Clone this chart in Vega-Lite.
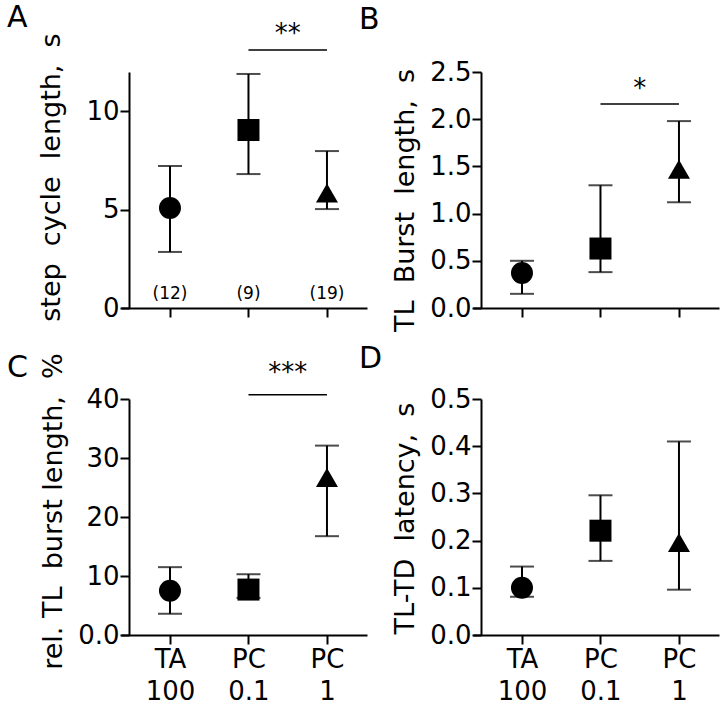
{
  "$schema": "https://vega.github.io/schema/vega-lite/v6.json",
  "padding": {"left": 7, "top": 3, "right": 5, "bottom": 5},
  "background": "white",
  "config": {
    "font": "DejaVu Sans",
    "view": {"stroke": null},
    "axis": {
      "domainColor": "black", "domainWidth": 2, "tickColor": "black", "tickWidth": 2, "tickSize": 9,
      "labelColor": "black", "labelFontSize": 26, "labelFont": "DejaVu Sans",
      "titleFontSize": 27, "titleFontWeight": "normal", "titleColor": "black", "titleFont": "DejaVu Sans",
      "grid": false
    },
    "title": {"fontSize": 30, "fontWeight": "normal", "anchor": "start", "frame": "group", "color": "black", "font": "DejaVu Sans"}
  },
  "columns": 2,
  "bounds": "flush",
  "spacing": {"row": 91, "column": 106},
  "concat": [
    {
      "width": 246, "height": 236,
      "title": {"text": "A", "dx": -114, "dy": 16},
      "data": {"values": [
        {"pos": 1, "grp": "TA100", "mean": 5.08, "lo": 2.85, "hi": 7.22, "n": "(12)"},
        {"pos": 2, "grp": "PC0.1", "mean": 9.05, "lo": 6.81, "hi": 11.9, "n": "(9)"},
        {"pos": 3, "grp": "PC1", "mean": 5.85, "lo": 5.03, "hi": 7.98, "n": "(19)"}
      ]},
      "encoding": {
        "x": {"field": "pos", "type": "quantitative", "scale": {"domain": [0.376, 3.51], "nice": false, "zero": false},
              "axis": {"values": [1, 2, 3], "labels": false, "title": null}}
      },
      "layer": [
        {"mark": {"type": "rule", "color": "black", "strokeWidth": 2},
         "encoding": {"y": {"field": "lo", "type": "quantitative", "scale": {"domain": [0, 12], "nice": false},
            "axis": {"values": [0, 5, 10], "offset": -8, "labelPadding": 1, "title": "step\u00a0\u00a0cycle\u00a0\u00a0length,\u00a0\u00a0s", "titlePadding": 20, "titleY": 105}},
           "y2": {"field": "hi"}}},
        {"mark": {"type": "tick", "orient": "horizontal", "color": "black", "thickness": 2, "size": 24}, "encoding": {"y": {"field": "lo", "type": "quantitative"}}},
        {"mark": {"type": "tick", "orient": "horizontal", "color": "black", "thickness": 2, "size": 24}, "encoding": {"y": {"field": "hi", "type": "quantitative"}}},
        {"mark": {"type": "point", "filled": true, "color": "black", "opacity": 1, "size": 484},
         "encoding": {"y": {"field": "mean", "type": "quantitative"},
           "shape": {"field": "grp", "type": "nominal", "scale": {"domain": ["TA100", "PC0.1", "PC1"], "range": ["circle", "square", "triangle-up"]}, "legend": null}}},
        {"mark": {"type": "text", "fontSize": 17, "color": "black", "baseline": "middle"},
         "encoding": {"y": {"datum": 0.71, "type": "quantitative"}, "text": {"field": "n"}}},
        {"data": {"values": [{"a": 2, "b": 3, "mid": 2.5, "y": 13.12, "ys": 13.52, "s": "**"}]},
         "layer": [
           {"mark": {"type": "rule", "color": "black", "strokeWidth": 1.5}, "encoding": {"x": {"field": "a", "type": "quantitative"}, "x2": {"field": "b"}, "y": {"field": "y", "type": "quantitative"}}},
           {"mark": {"type": "text", "fontSize": 26, "color": "black", "baseline": "alphabetic"},
            "encoding": {"x": {"field": "mid", "type": "quantitative"}, "y": {"field": "ys", "type": "quantitative"}, "text": {"field": "s", "type": "nominal"}}}
         ]}
      ]
    },
    {
      "width": 246, "height": 236,
      "title": {"text": "B", "dx": -114, "dy": -20},
      "data": {"values": [
        {"pos": 1, "grp": "TA100", "mean": 0.37, "lo": 0.15, "hi": 0.50},
        {"pos": 2, "grp": "PC0.1", "mean": 0.63, "lo": 0.38, "hi": 1.30},
        {"pos": 3, "grp": "PC1", "mean": 1.47, "lo": 1.12, "hi": 1.98}
      ]},
      "encoding": {
        "x": {"field": "pos", "type": "quantitative", "scale": {"domain": [0.376, 3.51], "nice": false, "zero": false},
              "axis": {"values": [1, 2, 3], "labels": false, "title": null}}
      },
      "layer": [
        {"mark": {"type": "rule", "color": "black", "strokeWidth": 2},
         "encoding": {"y": {"field": "lo", "type": "quantitative", "scale": {"domain": [0, 2.5], "nice": false},
            "axis": {"values": [0, 0.5, 1, 1.5, 2, 2.5], "format": ".1f", "offset": -8, "labelPadding": 1, "title": "TL\u00a0\u00a0Burst\u00a0\u00a0length,\u00a0\u00a0s", "titlePadding": 10, "titleY": 128}},
           "y2": {"field": "hi"}}},
        {"mark": {"type": "tick", "orient": "horizontal", "color": "black", "thickness": 2, "size": 24}, "encoding": {"y": {"field": "lo", "type": "quantitative"}}},
        {"mark": {"type": "tick", "orient": "horizontal", "color": "black", "thickness": 2, "size": 24}, "encoding": {"y": {"field": "hi", "type": "quantitative"}}},
        {"mark": {"type": "point", "filled": true, "color": "black", "opacity": 1, "size": 484},
         "encoding": {"y": {"field": "mean", "type": "quantitative"},
           "shape": {"field": "grp", "type": "nominal", "scale": {"domain": ["TA100", "PC0.1", "PC1"], "range": ["circle", "square", "triangle-up"]}, "legend": null}}},
        {"data": {"values": [{"a": 2, "b": 3, "mid": 2.5, "y": 2.16, "ys": 2.24, "s": "*"}]},
         "layer": [
           {"mark": {"type": "rule", "color": "black", "strokeWidth": 1.5}, "encoding": {"x": {"field": "a", "type": "quantitative"}, "x2": {"field": "b"}, "y": {"field": "y", "type": "quantitative"}}},
           {"mark": {"type": "text", "fontSize": 26, "color": "black", "baseline": "alphabetic"},
            "encoding": {"x": {"field": "mid", "type": "quantitative"}, "y": {"field": "ys", "type": "quantitative"}, "text": {"field": "s", "type": "nominal"}}}
         ]}
      ]
    },
    {
      "width": 246, "height": 236,
      "title": {"text": "C", "dx": -114, "dy": 34},
      "data": {"values": [
        {"pos": 1, "grp": "TA100", "mean": 7.5, "lo": 3.6, "hi": 11.5},
        {"pos": 2, "grp": "PC0.1", "mean": 7.7, "lo": 6.3, "hi": 10.3},
        {"pos": 3, "grp": "PC1", "mean": 26.7, "lo": 16.75, "hi": 32.1}
      ]},
      "encoding": {
        "x": {"field": "pos", "type": "quantitative", "scale": {"domain": [0.376, 3.51], "nice": false, "zero": false},
              "axis": {"values": [1, 2, 3], "title": null, "labelPadding": 2, "labelLineHeight": 32,
                "labelExpr": "datum.value == 1 ? ['TA', '100'] : datum.value == 2 ? ['PC', '0.1'] : ['PC', '1']"}}
      },
      "layer": [
        {"mark": {"type": "rule", "color": "black", "strokeWidth": 2},
         "encoding": {"y": {"field": "lo", "type": "quantitative", "scale": {"domain": [0, 40], "nice": false},
            "axis": {"values": [0, 10, 20, 30, 40], "labelExpr": "datum.value == 0 ? '0.0' : datum.label", "offset": -8, "labelPadding": 1, "title": "rel. TL\u00a0\u00a0burst length,\u00a0\u00a0%", "titlePadding": 10, "titleY": 112}},
           "y2": {"field": "hi"}}},
        {"mark": {"type": "tick", "orient": "horizontal", "color": "black", "thickness": 2, "size": 24}, "encoding": {"y": {"field": "lo", "type": "quantitative"}}},
        {"mark": {"type": "tick", "orient": "horizontal", "color": "black", "thickness": 2, "size": 24}, "encoding": {"y": {"field": "hi", "type": "quantitative"}}},
        {"mark": {"type": "point", "filled": true, "color": "black", "opacity": 1, "size": 484},
         "encoding": {"y": {"field": "mean", "type": "quantitative"},
           "shape": {"field": "grp", "type": "nominal", "scale": {"domain": ["TA100", "PC0.1", "PC1"], "range": ["circle", "square", "triangle-up"]}, "legend": null}}},
        {"data": {"values": [{"a": 2, "b": 3, "mid": 2.5, "y": 40.7, "ys": 43.0, "s": "***"}]},
         "layer": [
           {"mark": {"type": "rule", "color": "black", "strokeWidth": 1.5}, "encoding": {"x": {"field": "a", "type": "quantitative"}, "x2": {"field": "b"}, "y": {"field": "y", "type": "quantitative"}}},
           {"mark": {"type": "text", "fontSize": 26, "color": "black", "baseline": "alphabetic"},
            "encoding": {"x": {"field": "mid", "type": "quantitative"}, "y": {"field": "ys", "type": "quantitative"}, "text": {"field": "s", "type": "nominal"}}}
         ]}
      ]
    },
    {
      "width": 246, "height": 236,
      "title": {"text": "D", "dx": -114, "dy": -8},
      "data": {"values": [
        {"pos": 1, "grp": "TA100", "mean": 0.10, "lo": 0.081, "hi": 0.145},
        {"pos": 2, "grp": "PC0.1", "mean": 0.221, "lo": 0.157, "hi": 0.296},
        {"pos": 3, "grp": "PC1", "mean": 0.196, "lo": 0.096, "hi": 0.41}
      ]},
      "encoding": {
        "x": {"field": "pos", "type": "quantitative", "scale": {"domain": [0.376, 3.51], "nice": false, "zero": false},
              "axis": {"values": [1, 2, 3], "title": null, "labelPadding": 2, "labelLineHeight": 32,
                "labelExpr": "datum.value == 1 ? ['TA', '100'] : datum.value == 2 ? ['PC', '0.1'] : ['PC', '1']"}}
      },
      "layer": [
        {"mark": {"type": "rule", "color": "black", "strokeWidth": 2},
         "encoding": {"y": {"field": "lo", "type": "quantitative", "scale": {"domain": [0, 0.5], "nice": false},
            "axis": {"values": [0, 0.1, 0.2, 0.3, 0.4, 0.5], "format": ".1f", "offset": -8, "labelPadding": 1, "title": "TL-TD\u00a0\u00a0latency,\u00a0\u00a0s", "titlePadding": 10, "titleY": 119}},
           "y2": {"field": "hi"}}},
        {"mark": {"type": "tick", "orient": "horizontal", "color": "black", "thickness": 2, "size": 24}, "encoding": {"y": {"field": "lo", "type": "quantitative"}}},
        {"mark": {"type": "tick", "orient": "horizontal", "color": "black", "thickness": 2, "size": 24}, "encoding": {"y": {"field": "hi", "type": "quantitative"}}},
        {"mark": {"type": "point", "filled": true, "color": "black", "opacity": 1, "size": 484},
         "encoding": {"y": {"field": "mean", "type": "quantitative"},
           "shape": {"field": "grp", "type": "nominal", "scale": {"domain": ["TA100", "PC0.1", "PC1"], "range": ["circle", "square", "triangle-up"]}, "legend": null}}}
      ]
    }
  ]
}
